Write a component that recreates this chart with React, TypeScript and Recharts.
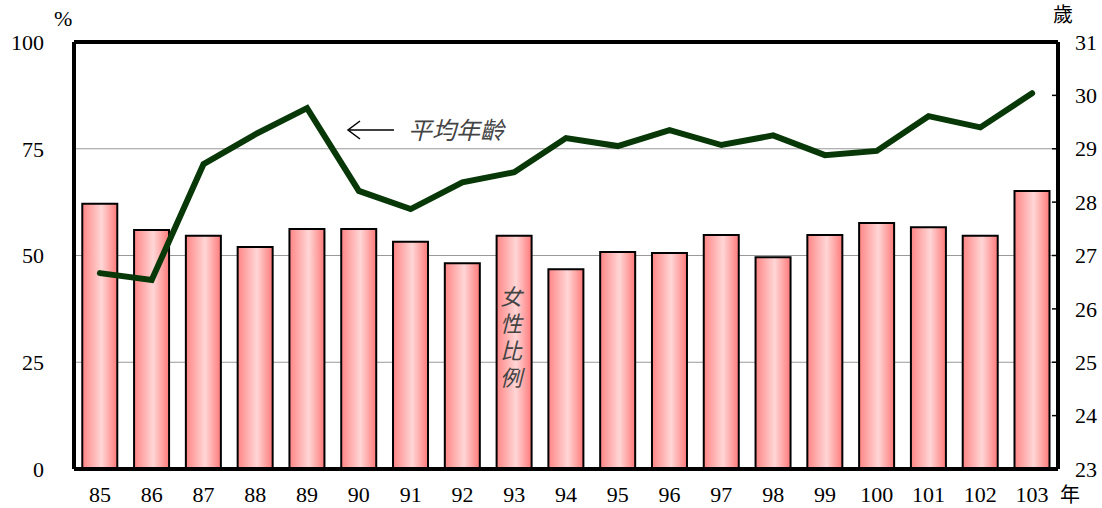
import React from 'react';
import {
  ComposedChart,
  Bar,
  Line,
  XAxis,
  YAxis,
  CartesianGrid,
  ReferenceLine,
} from 'recharts';

const YEARS = ['85', '86', '87', '88', '89', '90', '91', '92', '93', '94', '95', '96', '97', '98', '99', '100', '101', '102', '103'];
const FEMALE_RATIO = [62.1, 56.0, 54.6, 52.0, 56.2, 56.2, 53.2, 48.2, 54.6, 46.8, 50.8, 50.6, 54.8, 49.6, 54.8, 57.6, 56.6, 54.6, 65.1];
const AVG_AGE = [26.67, 26.54, 28.71, 29.27, 29.76, 28.21, 27.87, 28.37, 28.56, 29.2, 29.05, 29.35, 29.07, 29.25, 28.88, 28.96, 29.61, 29.4, 30.04];
const LEFT_TICKS = [0, 25, 50, 75, 100];
const RIGHT_TICKS = [23, 24, 25, 26, 27, 28, 29, 30, 31];

const data = YEARS.map((year, i) => ({ year, ratio: FEMALE_RATIO[i], age: AVG_AGE[i] }));

const NUM_FONT = 'Liberation Serif, DejaVu Serif, serif';
const CJK_FONT = '"Noto Sans CJK TC", "Noto Sans CJK JP", sans-serif';

const RightTick = (props: any) => {
  const { x, y, payload } = props;
  return (
    <g>
      <line x1={x - 17} x2={x - 23} y1={y} y2={y} stroke="#000" strokeWidth={1.5} />
      <text x={x} y={y} dy="0.35em" textAnchor="start" fill="#000" fontSize={22} style={{ fontFamily: NUM_FONT }}>
        {payload.value}
      </text>
    </g>
  );
};

const App: React.FC = () => {
  return (
    <div style={{ position: 'absolute', left: 0, top: 0, width: 1102, height: 508, background: '#fff' }}>
      <ComposedChart width={1102} height={508} data={data} margin={{ top: 42, right: 0, bottom: 0, left: 0 }} barCategoryGap="16%">
        <defs>
          <linearGradient id="barFill" x1="0" y1="0" x2="1" y2="0">
            <stop offset="0%" stopColor="#ff8585" />
            <stop offset="55%" stopColor="#ffd6d6" />
            <stop offset="100%" stopColor="#ff7a7a" />
          </linearGradient>
        </defs>
        <CartesianGrid vertical={false} stroke="#999" strokeWidth={1} yAxisId="left" />
        <XAxis
          dataKey="year"
          axisLine={{ stroke: '#000', strokeWidth: 4 }}
          tickLine={false}
          tickSize={0}
          tickMargin={17}
          height={39}
          interval={0}
          tick={{ fill: '#000', fontSize: 22, style: { fontFamily: NUM_FONT } }}
        />
        <YAxis
          yAxisId="left"
          domain={[0, 100]}
          ticks={LEFT_TICKS}
          width={74}
          axisLine={{ stroke: '#000', strokeWidth: 4 }}
          tickLine={false}
          tickSize={0}
          tickMargin={30}
          tick={{ fill: '#000', fontSize: 22, style: { fontFamily: NUM_FONT } }}
        />
        <YAxis
          yAxisId="right"
          orientation="right"
          domain={[23, 31]}
          ticks={RIGHT_TICKS}
          width={44}
          axisLine={{ stroke: '#000', strokeWidth: 4 }}
          tickLine={false}
          tickSize={0}
          tickMargin={17}
          tick={<RightTick />}
        />
        <ReferenceLine yAxisId="left" y={100} stroke="#000" strokeWidth={4} />
        <Bar yAxisId="left" dataKey="ratio" fill="url(#barFill)" stroke="#000" strokeWidth={2} isAnimationActive={false} />
        <Line
          yAxisId="right"
          type="linear"
          dataKey="age"
          stroke="#083808"
          strokeWidth={6}
          strokeLinecap="round"
          dot={false}
          activeDot={false}
          isAnimationActive={false}
        />
      </ComposedChart>

      <div style={{ position: 'absolute', left: 54, top: 6, fontSize: 22, fontFamily: NUM_FONT, color: '#000' }}>%</div>
      <div style={{ position: 'absolute', left: 1053, top: 4, fontSize: 20, fontFamily: CJK_FONT, color: '#000', lineHeight: 1 }}>歲</div>
      <div style={{ position: 'absolute', left: 1060, top: 484, fontSize: 20, fontFamily: CJK_FONT, color: '#000', lineHeight: 1 }}>年</div>

      <svg style={{ position: 'absolute', left: 340, top: 118 }} width={60} height={24}>
        <line x1={8} y1={12} x2={54} y2={12} stroke="#000" strokeWidth={1.5} />
        <polyline points="20,3 8,12 20,21" fill="none" stroke="#000" strokeWidth={1.5} />
      </svg>
      <div style={{ position: 'absolute', left: 408, top: 117, fontSize: 24, fontStyle: 'italic', fontFamily: CJK_FONT, color: '#444', lineHeight: 1 }}>
        平均年齡
      </div>
      <div
        style={{
          position: 'absolute',
          left: 500,
          top: 286,
          fontSize: 22,
          fontStyle: 'italic',
          fontFamily: CJK_FONT,
          color: '#444',
          writingMode: 'vertical-rl',
          lineHeight: 1,
          letterSpacing: 5,
        }}
      >
        女性比例
      </div>
    </div>
  );
};

export default App;
